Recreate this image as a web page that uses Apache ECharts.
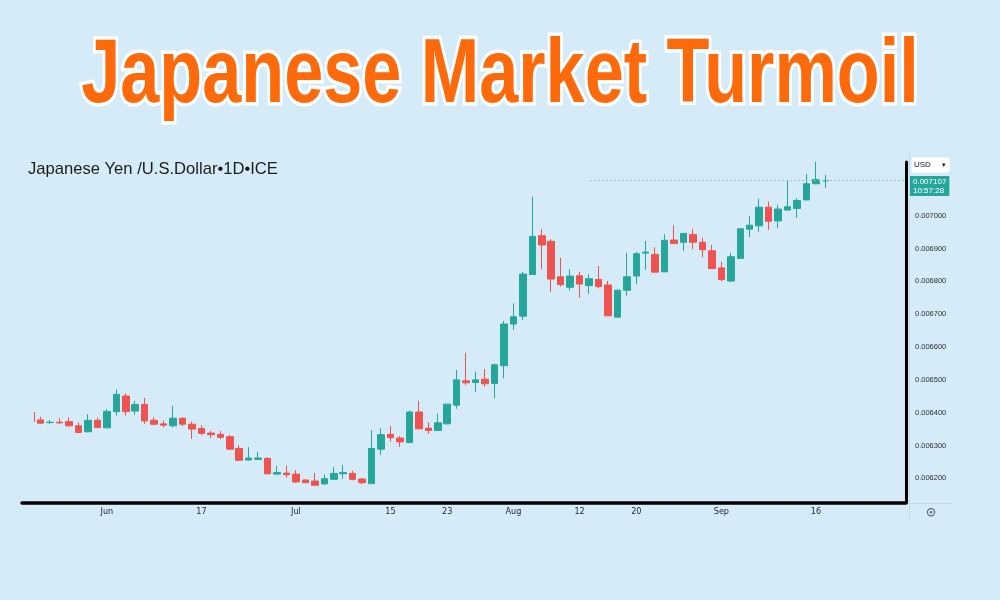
<!DOCTYPE html>
<html><head><meta charset="utf-8">
<script src="https://cdn.jsdelivr.net/npm/echarts@6/dist/echarts.min.js"></script>
<style>html,body{margin:0;padding:0;background:#d6ebf8;}#c{width:1000px;height:600px;}</style>
</head><body><div id="c"></div>
<script>
// ---- data ----
const dates = [
 '2024-05-22','2024-05-23','2024-05-24','2024-05-27','2024-05-28','2024-05-29','2024-05-30','2024-05-31',
 '2024-06-03','2024-06-04','2024-06-05','2024-06-06','2024-06-07','2024-06-10','2024-06-11','2024-06-12','2024-06-13','2024-06-14',
 '2024-06-17','2024-06-18','2024-06-19','2024-06-20','2024-06-21','2024-06-24','2024-06-25','2024-06-26','2024-06-27','2024-06-28',
 '2024-07-01','2024-07-02','2024-07-03','2024-07-04','2024-07-05','2024-07-08','2024-07-09','2024-07-10','2024-07-11','2024-07-12',
 '2024-07-15','2024-07-16','2024-07-17','2024-07-18','2024-07-19','2024-07-22','2024-07-23','2024-07-24','2024-07-25','2024-07-26',
 '2024-07-29','2024-07-30','2024-07-31',
 '2024-08-01','2024-08-02','2024-08-05','2024-08-06','2024-08-07','2024-08-08','2024-08-09','2024-08-12','2024-08-13','2024-08-14',
 '2024-08-15','2024-08-16','2024-08-19','2024-08-20','2024-08-21','2024-08-22','2024-08-23','2024-08-26','2024-08-27','2024-08-28',
 '2024-08-29','2024-08-30',
 '2024-09-02','2024-09-03','2024-09-04','2024-09-05','2024-09-06','2024-09-09','2024-09-10','2024-09-11','2024-09-12','2024-09-13',
 '2024-09-16','2024-09-17'
];
const opens = [
 0.006401,0.006378,0.006370,0.006371,0.006373,0.006360,0.006342,0.006377,0.006354,0.006403,
 0.006451,0.006405,0.006425,0.006377,0.006366,0.006360,0.006383,0.006365,0.006352,0.006338,
 0.006334,0.006327,0.006291,0.006256,0.006258,0.006261,0.006213,0.006216,0.006213,0.006195,
 0.006192,0.006183,0.006197,0.006214,0.006215,0.006198,0.006184,0.006289,0.006334,0.006323,
 0.006309,0.006402,0.006353,0.006346,0.006366,0.006423,0.006497,0.006492,0.006502,0.006489,
 0.006543,0.006670,0.006694,0.006821,0.006939,0.006922,0.006814,0.006782,0.006817,0.006787,
 0.006806,0.006789,0.006691,0.006773,0.006816,0.006886,0.006882,0.006829,0.006926,0.006919,
 0.006943,0.006919,0.006893,0.006841,0.006801,0.006870,0.006959,0.006969,0.007026,0.006984,
 0.007017,0.007022,0.007048,0.007097,0.007106
];
const closes = [
 0.006373,0.006368,0.006371,0.006369,0.006360,0.006340,0.006377,0.006355,0.006404,0.006456,
 0.006403,0.006425,0.006375,0.006365,0.006362,0.006383,0.006365,0.006350,0.006337,0.006333,
 0.006325,0.006289,0.006255,0.006262,0.006262,0.006214,0.006218,0.006211,0.006189,0.006187,
 0.006179,0.006199,0.006215,0.006218,0.006197,0.006187,0.006291,0.006333,0.006324,0.006311,
 0.006402,0.006351,0.006346,0.006369,0.006426,0.006500,0.006491,0.006500,0.006488,0.006546,
 0.006670,0.006692,0.006822,0.006937,0.006911,0.006807,0.006790,0.006816,0.006792,0.006808,
 0.006784,0.006695,0.006773,0.006814,0.006884,0.006889,0.006828,0.006925,0.006915,0.006946,
 0.006919,0.006896,0.006839,0.006805,0.006875,0.006960,0.006971,0.007026,0.006983,0.007020,
 0.007027,0.007046,0.007097,0.007110,0.007107
];
const lows = [
 0.006371,0.006365,0.006366,0.006366,0.006357,0.006337,0.006340,0.006352,0.006352,0.006391,
 0.006391,0.006394,0.006366,0.006362,0.006355,0.006355,0.006359,0.006320,0.006331,0.006323,
 0.006320,0.006286,0.006253,0.006253,0.006256,0.006212,0.006211,0.006202,0.006186,0.006185,
 0.006177,0.006181,0.006195,0.006199,0.006194,0.006182,0.006183,0.006272,0.006312,0.006296,
 0.006307,0.006349,0.006336,0.006344,0.006365,0.006412,0.006484,0.006464,0.006479,0.006444,
 0.006505,0.006652,0.006682,0.006821,0.006837,0.006767,0.006784,0.006772,0.006750,0.006762,
 0.006779,0.006695,0.006691,0.006756,0.006791,0.006835,0.006828,0.006828,0.006915,0.006892,
 0.006898,0.006873,0.006839,0.006800,0.006798,0.006869,0.006935,0.006951,0.006957,0.006962,
 0.007017,0.006993,0.007048,0.007097,0.007085
];
const highs = [
 0.006403,0.006388,0.006378,0.006383,0.006386,0.006370,0.006395,0.006385,0.006411,0.006471,
 0.006459,0.006436,0.006445,0.006386,0.006376,0.006421,0.006386,0.006373,0.006362,0.006345,
 0.006344,0.006332,0.006301,0.006295,0.006280,0.006264,0.006238,0.006239,0.006225,0.006197,
 0.006216,0.006212,0.006234,0.006240,0.006223,0.006202,0.006347,0.006352,0.006359,0.006329,
 0.006407,0.006436,0.006371,0.006397,0.006427,0.006530,0.006582,0.006525,0.006533,0.006550,
 0.006679,0.006733,0.006829,0.007058,0.006959,0.006928,0.006872,0.006837,0.006829,0.006821,
 0.006847,0.006801,0.006776,0.006887,0.006890,0.006923,0.006904,0.006943,0.006971,0.006946,
 0.006959,0.006933,0.006911,0.006860,0.006887,0.006961,0.006999,0.007052,0.007043,0.007033,
 0.007108,0.007053,0.007127,0.007164,0.007124
];
const tickDates  = ['2024-06-03','2024-06-17','2024-07-01','2024-07-15','2024-07-23','2024-08-01','2024-08-12','2024-08-20','2024-09-02','2024-09-16'];
const tickLabels = ['Jun','17','Jul','15','23','Aug','12','20','Sep','16'];
const lastPrice = 0.007107;
const lastTime = '10:57:28';
const currency = 'USD';
const titleText = 'Japanese Market Turmoil';
const subtitleText = 'Japanese Yen /U.S.Dollar\u20221D\u2022ICE';

// ---- build ----
const candleData = dates.map((d, i) => [i, opens[i], closes[i], lows[i], highs[i]]);
const tickIdx = tickDates.map(d => dates.indexOf(d));
const labelOf = {};
tickIdx.forEach((v, k) => { labelOf[v] = tickLabels[k]; });

const BG = '#d6ebf8';
const UP = '#26a69a', DOWN = '#ef5350';
const xMin = 0.29, xMax = 92.53, priceLineStart = 59.1;

const chart = echarts.init(document.getElementById('c'), null, {renderer: 'canvas'});
chart.setOption({
  animation: false,
  backgroundColor: BG,
  title: {
    text: subtitleText, left: 28, top: 160.5, padding: 0,
    textStyle: {fontFamily: 'Liberation Sans, Arial, sans-serif', fontSize: 16.6, fontWeight: 'normal', color: '#1c1c1c'}
  },
  grid: [
    {left: 34, right: 94, top: 150, bottom: 88.8},
    {left: 22, right: 94, top: 162, bottom: 97.7}
  ],
  xAxis: [
    {gridIndex: 0, type: 'value', min: xMin, max: xMax, offset: -9.2,
     axisLine: {show: false, onZero: false}, axisTick: {show: false}, splitLine: {show: false},
     axisLabel: {customValues: tickIdx, margin: 5, fontSize: 9, color: '#1e222d',
       fontFamily: 'Liberation Sans Narrow, DejaVu Sans Condensed, sans-serif',
       formatter: v => labelOf[Math.round(v)] || ''}},
    {gridIndex: 1, type: 'value', min: 0, max: 1,
     axisLine: {show: true, onZero: false, lineStyle: {color: '#000', width: 3.5}},
     axisTick: {show: false}, axisLabel: {show: false}, splitLine: {show: false}}
  ],
  yAxis: [
    {gridIndex: 0, type: 'value', position: 'right', min: 0.0061, max: 0.0072, interval: 0.0001,
     axisLine: {show: false, onZero: false}, axisTick: {show: false}, splitLine: {show: false},
     axisLabel: {margin: 9, fontSize: 7.5, color: '#2e2e2e', fontFamily: 'Liberation Sans, Arial, sans-serif',
       showMinLabel: false, showMaxLabel: false, formatter: v => v.toFixed(6)}},
    {gridIndex: 1, type: 'value', position: 'right', min: 0, max: 1,
     axisLine: {show: true, onZero: false, lineStyle: {color: '#000', width: 3}},
     axisTick: {show: false}, axisLabel: {show: false}, splitLine: {show: false}}
  ],
  series: [{
    type: 'candlestick', xAxisIndex: 0, yAxisIndex: 0, clip: true,
    data: candleData, encode: {x: 0, y: [1, 2, 3, 4]}, barWidth: 7,
    itemStyle: {color: UP, color0: DOWN, borderColor: UP, borderColor0: DOWN, borderWidth: 1},
    markLine: {
      silent: true, symbol: 'none', animation: false,
      lineStyle: {color: '#8fcbc6', type: [2, 2], width: 1},
      label: {show: true, position: 'end', distance: 4, offset: [0, 5.5],
        formatter: () => lastPrice.toFixed(6) + '\n' + lastTime,
        backgroundColor: UP, color: '#fff', fontSize: 8, lineHeight: 9, padding: [1, 3, 1, 3],
        fontFamily: 'Liberation Sans, Arial, sans-serif'},
      data: [[{coord: [priceLineStart, lastPrice]}, {coord: [xMax, lastPrice]}]]
    }
  }],
  graphic: [
    // left edge of the price pane (the first candle is cut by it)
    {type: 'rect', shape: {x: 18, y: 300, width: 16, height: 195}, style: {fill: BG}, z: 50, silent: true},
    {type: 'text', x: 500, y: 77.5, scaleX: 0.78, scaleY: 1.0, z: 60,
     style: {text: titleText, x: 0, y: 0, align: 'center', verticalAlign: 'middle',
       font: 'bold 90px "Liberation Sans", Arial, sans-serif',
       fill: '#fd6a0c', stroke: '#ffffff', lineWidth: 7, strokeFirst: true, lineJoin: 'round',
       shadowColor: 'rgba(0,0,0,0.38)', shadowBlur: 9, shadowOffsetX: 2, shadowOffsetY: 5}},
    {type: 'line', shape: {x1: 909.5, y1: 150, x2: 909.5, y2: 520}, style: {stroke: '#c9dbe7', lineWidth: 1}, silent: true},
    {type: 'line', shape: {x1: 909, y1: 503.5, x2: 952, y2: 503.5}, style: {stroke: '#c4d7e4', lineWidth: 1}, silent: true},
    {type: 'rect', shape: {x: 911.5, y: 157.5, width: 38, height: 15, r: 2}, style: {fill: '#ffffff'}, z: 5},
    {type: 'text', x: 914, y: 165, z: 6, style: {text: currency, fill: '#131722', font: '8px "Liberation Sans", Arial, sans-serif', verticalAlign: 'middle'}},
    {type: 'text', x: 942, y: 165, z: 6, style: {text: '\u25BE', fill: '#131722', font: '7px "DejaVu Sans", sans-serif', verticalAlign: 'middle'}},
    {type: 'circle', shape: {cx: 931, cy: 512.3, r: 3.6}, style: {fill: 'none', stroke: '#5d6773', lineWidth: 1.2}},
    {type: 'circle', shape: {cx: 931, cy: 512.3, r: 1.2}, style: {fill: '#5d6773'}}
  ]
});
</script></body></html>
